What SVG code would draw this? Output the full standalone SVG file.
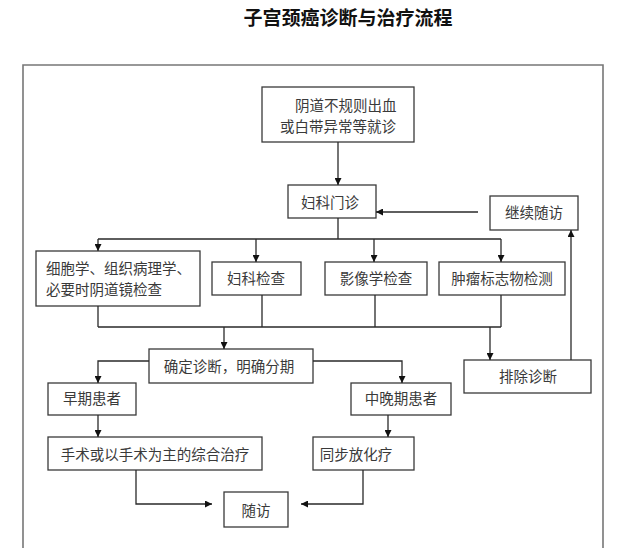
<svg xmlns="http://www.w3.org/2000/svg" width="640" height="548" viewBox="0 0 640 548">
<style>
.box{fill:#fff;stroke:#3a3a3a;stroke-width:1.3}
.t{font-family:"Noto Sans CJK SC","Noto Sans",sans-serif;font-size:14.5px;fill:#3a3a3a}
.c{text-anchor:middle}
.ln{fill:none;stroke:#2a2a2a;stroke-width:1.3}
.title{font-family:"Noto Sans CJK SC",sans-serif;font-size:19px;font-weight:bold;fill:#111;text-anchor:middle}
</style>
<defs>
<marker id="ah" viewBox="0 0 10 10" refX="10" refY="5" markerWidth="7" markerHeight="7" markerUnits="userSpaceOnUse" orient="auto">
<path d="M0,0 L10,5 L0,10 z" fill="#111"/>
</marker>
</defs>
<rect width="640" height="548" fill="#fff"/>
<text class="title" x="348" y="25">子宫颈癌诊断与治疗流程</text>
<path d="M23,560 V65 H603 V560" fill="none" stroke="#777" stroke-width="1.6"/>

<g id="n1"><rect class="box" x="262" y="87" width="152" height="55"/>
<text class="t" x="295" y="111">阴道不规则出血</text>
<text class="t" x="280" y="132">或白带异常等就诊</text></g>
<g id="n2"><rect class="box" x="288" y="185" width="88" height="33"/><text class="t c" x="330" y="208">妇科门诊</text></g>
<g id="n3"><rect class="box" x="490" y="196" width="88" height="34"/><text class="t c" x="534" y="218">继续随访</text></g>
<g id="n4"><rect class="box" x="36" y="251" width="164" height="55"/>
<text class="t" x="46" y="274">细胞学、组织病理学、</text>
<text class="t" x="46" y="295">必要时阴道镜检查</text></g>
<g id="n5"><rect class="box" x="212" y="262" width="89" height="33"/><text class="t c" x="256" y="284">妇科检查</text></g>
<g id="n6"><rect class="box" x="325" y="262" width="102" height="33"/><text class="t c" x="376" y="284">影像学检查</text></g>
<g id="n7"><rect class="box" x="439" y="262" width="126" height="33"/><text class="t c" x="502" y="284">肿瘤标志物检测</text></g>
<g id="n8"><rect class="box" x="149" y="349" width="164" height="34"/><text class="t c" x="229" y="372">确定诊断，明确分期</text></g>
<g id="n9"><rect class="box" x="464" y="360" width="127" height="33"/><text class="t c" x="528" y="382">排除诊断</text></g>
<g id="n10"><rect class="box" x="48" y="383" width="88" height="32"/><text class="t c" x="92" y="404">早期患者</text></g>
<g id="n11"><rect class="box" x="351" y="383" width="100" height="32"/><text class="t c" x="401" y="404">中晚期患者</text></g>
<g id="n12"><rect class="box" x="48" y="437" width="214" height="33"/><text class="t c" x="155" y="460">手术或以手术为主的综合治疗</text></g>
<g id="n13"><rect class="box" x="313" y="437" width="101" height="33"/><text class="t c" x="356" y="460">同步放化疗</text></g>
<g id="n14"><rect class="box" x="224" y="492" width="64" height="35"/><text class="t c" x="256" y="516">随访</text></g>

<g id="connectors">
<path class="ln" d="M338,142 V185" marker-end="url(#ah)"/>
<path class="ln" d="M478,212 H376" marker-end="url(#ah)"/>
<path class="ln" d="M338,218 V239 M98,239 H501"/>
<path class="ln" d="M98,239 V251" marker-end="url(#ah)"/>
<path class="ln" d="M256,239 V262" marker-end="url(#ah)"/>
<path class="ln" d="M374,239 V262" marker-end="url(#ah)"/>
<path class="ln" d="M501,239 V262" marker-end="url(#ah)"/>
<path class="ln" d="M98,306 V327 M262,295 V327 M375,295 V327 M501,295 V327 M98,327 H501"/>
<path class="ln" d="M224,327 V349" marker-end="url(#ah)"/>
<path class="ln" d="M490,327 V360" marker-end="url(#ah)"/>
<path class="ln" d="M571,360 V230" marker-end="url(#ah)"/>
<path class="ln" d="M149,361 H98 V383" marker-end="url(#ah)"/>
<path class="ln" d="M313,361 H402 V383" marker-end="url(#ah)"/>
<path class="ln" d="M98,415 V437" marker-end="url(#ah)"/>
<path class="ln" d="M388,415 V437" marker-end="url(#ah)"/>
<path class="ln" d="M136,470 V504 H212" marker-end="url(#ah)"/>
<path class="ln" d="M363,470 V504 H301" marker-end="url(#ah)"/>
</g>
</svg>
